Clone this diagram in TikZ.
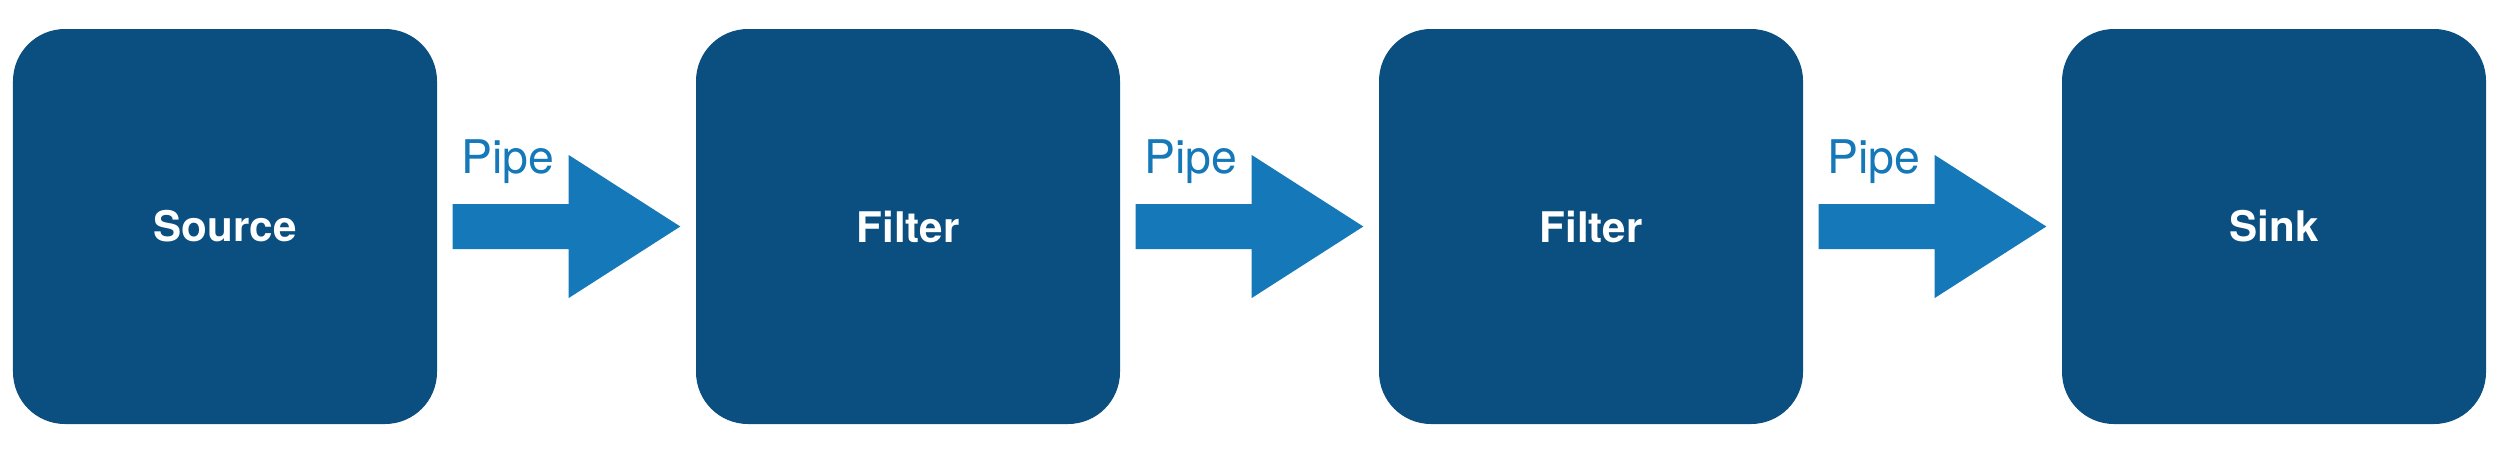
\documentclass[tikz,border=0pt]{standalone}
\usepackage{fontspec}
\setmainfont{TeX Gyre Heros}
\usetikzlibrary{calc}
\definecolor{boxblue}{RGB}{11,79,128}
\definecolor{pipeblue}{RGB}{20,120,185}
\tikzset{
  stage/.style={fill=boxblue, text=white, rounded corners=0.52cm,
    minimum width=4.24cm, minimum height=3.95cm, inner sep=0pt,
    font=\fontsize{12}{14}\selectfont\bfseries},
  pipeshape/.style={fill=pipeblue},
  pipelabel/.style={text=pipeblue, inner sep=0pt, anchor=base west,
    font=\fontsize{13.2}{15}\selectfont}
}
\newcommand{\pipearrow}[3]{%
  \fill[pipeshape] ($(#1.east)+(0.15,0.225)$) -- ($(#1.east)+(1.31,0.225)$)
    -- ($(#1.east)+(1.31,0.715)$) -- ($(#2.west)+(-0.15,0)$)
    -- ($(#1.east)+(1.31,-0.715)$) -- ($(#1.east)+(1.31,-0.225)$)
    -- ($(#1.east)+(0.15,-0.225)$) -- cycle;
  \node[pipelabel] (#3) at ($(#1.east)+(0.23,0.535)$) {Pipe};
}
\begin{document}
\begin{tikzpicture}
\useasboundingbox (0,0) rectangle (25.06,4.52);
\node[stage] (s1) at (2.25,2.255) {Source};
\node[stage] (s2) at (9.08,2.255) {Filter};
\node[stage] (s3) at (15.91,2.255) {Filter};
\node[stage] (s4) at (22.74,2.255) {Sink};
\pipearrow{s1}{s2}{p1}
\pipearrow{s2}{s3}{p2}
\pipearrow{s3}{s4}{p3}
\end{tikzpicture}
\end{document}
